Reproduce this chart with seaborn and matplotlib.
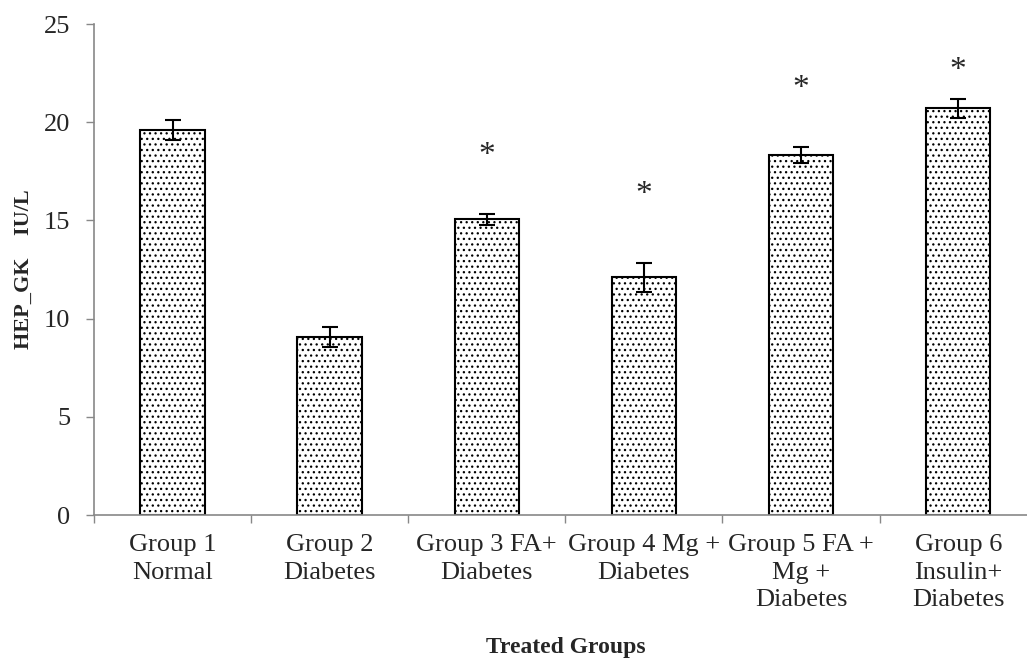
import numpy as np
import pandas as pd
import seaborn as sns
import matplotlib.pyplot as plt
from matplotlib.ticker import FixedLocator

sns.set_style('white')
plt.rcParams['font.family'] = ['Liberation Serif', 'DejaVu Serif']
plt.rcParams['hatch.linewidth'] = 0.9

GROUPS = ['Group 1\nNormal', 'Group 2\nDiabetes', 'Group 3 FA+\nDiabetes',
          'Group 4 Mg +\nDiabetes', 'Group 5 FA +\nMg +\nDiabetes',
          'Group 6\nInsulin+\nDiabetes']
MEANS = [19.6, 9.05, 15.05, 12.1, 18.35, 20.7]
ERRORS = [0.5, 0.5, 0.3, 0.73, 0.4, 0.5]
STAR_Y = [None, None, 18.3, 16.3, 21.7, 22.6]

df = pd.DataFrame({'group': GROUPS, 'mean': MEANS})

fig = plt.figure(figsize=(10.27, 6.59), dpi=100)
ax = fig.add_axes([0.0915, 0.2185, 0.918, 0.745])

sns.barplot(data=df, x='group', y='mean', color='white', edgecolor='black',
            linewidth=1.5, width=0.41, errorbar=None, ax=ax)
for p in ax.patches:
    p.set_hatch('...')
    p.set_facecolor('white')

x = np.arange(len(GROUPS))
ax.errorbar(x, MEANS, yerr=ERRORS, fmt='none', ecolor='black',
            elinewidth=1.5, capsize=6, capthick=1.5)

for xi, sy in zip(x, STAR_Y):
    if sy is not None:
        ax.text(xi, sy, '*', ha='center', va='center', fontsize=24)

ax.set_ylim(0, 25)
ax.set_xlim(-0.5, len(GROUPS) - 0.5)
ax.set_yticks([0, 5, 10, 15, 20, 25])
ax.tick_params(axis='y', labelsize=19, length=6, width=1, color='#888888',
               direction='out', left=True, pad=11)
ax.tick_params(axis='x', which='major', labelsize=19, length=0, pad=14)
for lbl in ax.get_xticklabels():
    lbl.set_linespacing(1.3)
ax.xaxis.set_minor_locator(FixedLocator(np.arange(-0.5, len(GROUPS), 1)))
ax.tick_params(axis='x', which='minor', length=6, width=1, color='#888888',
               direction='out', bottom=True)

for side in ['top', 'right']:
    ax.spines[side].set_visible(False)
for side in ['left', 'bottom']:
    ax.spines[side].set_color('#888888')
    ax.spines[side].set_linewidth(1.2)

ax.set_xlabel('Treated Groups', fontsize=17, fontweight='bold', labelpad=19)
ax.set_ylabel('HEP_GK    IU/L', fontsize=16, fontweight='bold', labelpad=7)

fig.savefig('out.png', dpi=100)
